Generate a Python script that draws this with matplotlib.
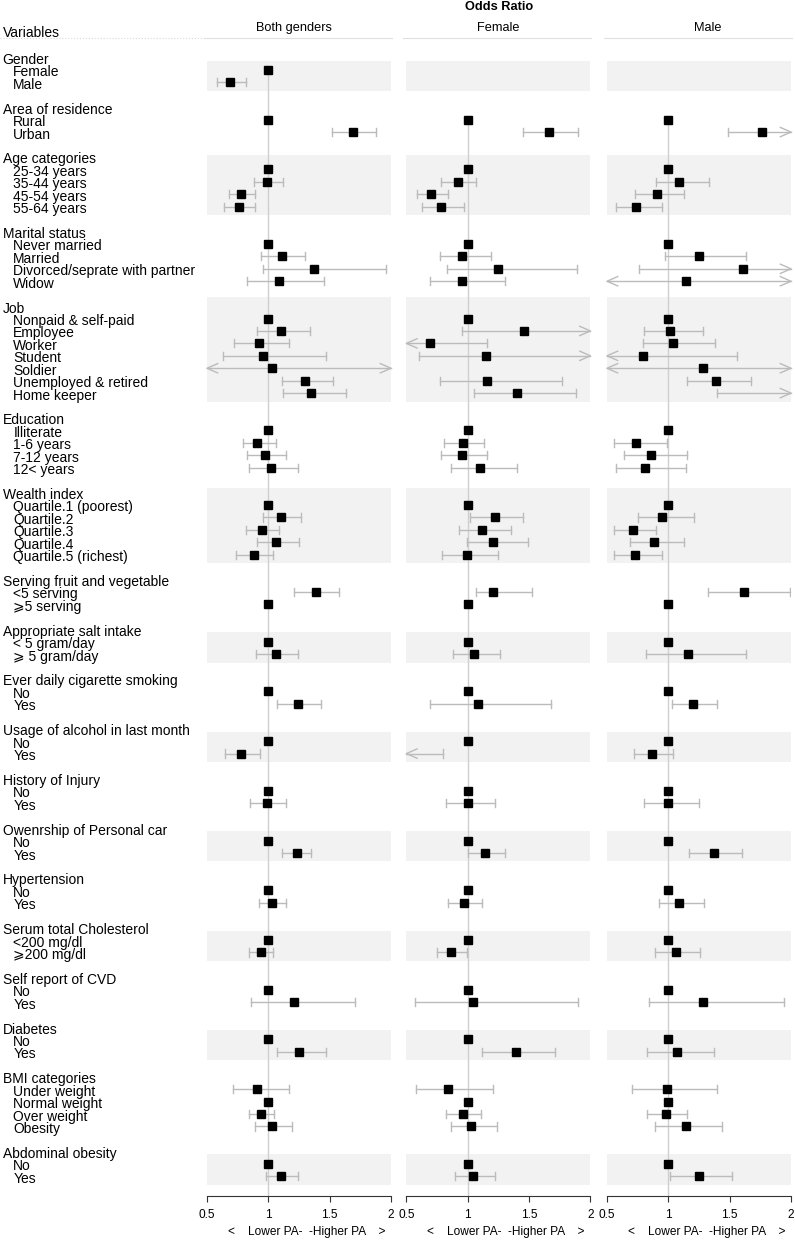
import numpy as np
import matplotlib
matplotlib.use("Agg")
import matplotlib.pyplot as plt
from matplotlib.lines import Line2D

plt.rcParams["font.family"] = ["Liberation Sans", "DejaVu Sans"]

W, H = 795, 1241
N = np.nan

GROUPS = ["Gender", "Area of residence", "Age categories", "Marital status", "Job",
          "Education", "Wealth index", "Serving fruit and vegetable",
          "Appropriate salt intake", "Ever daily cigarette smoking",
          "Usage of alcohol in last month", "History of Injury",
          "Owenrship of Personal car", "Hypertension", "Serum total Cholesterol",
          "Self report of CVD", "Diabetes", "BMI categories", "Abdominal obesity"]
LEVELS = [
    ["Female", "Male"],
    ["Rural", "Urban"],
    ["25-34 years", "35-44 years", "45-54 years", "55-64 years"],
    ["Never married", "Married", "Divorced/seprate with partner", "Widow"],
    ["Nonpaid & self-paid", "Employee", "Worker", "Student", "Soldier",
     "Unemployed & retired", "Home keeper"],
    ["Illiterate", "1-6 years", "7-12 years", "12< years"],
    ["Quartile.1 (poorest)", "Quartile.2", "Quartile.3", "Quartile.4",
     "Quartile.5 (richest)"],
    ["<5 serving", "\u2a7e5 serving"],
    ["< 5 gram/day", "\u2a7e 5 gram/day"],
    ["No", "Yes"], ["No", "Yes"], ["No", "Yes"], ["No", "Yes"], ["No", "Yes"],
    ["<200 mg/dl", "\u2a7e200 mg/dl"],
    ["No", "Yes"], ["No", "Yes"],
    ["Under weight", "Normal weight", "Over weight", "Obesity"],
    ["No", "Yes"],
]

# odds ratios and 95% CI, flattened in LEVELS order (reference rows: OR 1, no CI)
BOTH_OR = [1, 0.69,  1, 1.69,  1, 0.99, 0.78, 0.76,  1, 1.11, 1.37, 1.09,
           1, 1.10, 0.92, 0.96, 1.03, 1.30, 1.35,  1, 0.91, 0.97, 1.02,
           1, 1.10, 0.95, 1.06, 0.88,  1.39, 1,  1, 1.06,  1, 1.24,  1, 0.78,
           1, 0.99,  1, 1.23,  1, 1.03,  1, 0.94,  1, 1.21,  1, 1.25,
           0.91, 1, 0.94, 1.03,  1, 1.10]
BOTH_LO = [N, 0.58,  N, 1.52,  N, 0.88, 0.68, 0.64,  N, 0.94, 0.96, 0.83,
           N, 0.91, 0.72, 0.63, 0.30, 1.11, 1.12,  N, 0.79, 0.83, 0.84,
           N, 0.96, 0.82, 0.91, 0.74,  1.21, N,  N, 0.90,  N, 1.07,  N, 0.65,
           N, 0.85,  N, 1.11,  N, 0.92,  N, 0.84,  N, 0.86,  N, 1.07,
           0.71, N, 0.84, 0.89,  N, 0.98]
BOTH_HI = [N, 0.82,  N, 1.88,  N, 1.12, 0.89, 0.89,  N, 1.30, 1.96, 1.45,
           N, 1.34, 1.17, 1.47, 3.50, 1.53, 1.63,  N, 1.06, 1.14, 1.24,
           N, 1.27, 1.09, 1.25, 1.04,  1.58, N,  N, 1.24,  N, 1.43,  N, 0.93,
           N, 1.14,  N, 1.35,  N, 1.14,  N, 1.04,  N, 1.71,  N, 1.47,
           1.17, N, 1.05, 1.19,  N, 1.24]

FEMALE_OR = [N, N,  1, 1.66,  1, 0.92, 0.70, 0.78,  1, 0.95, 1.25, 0.95,
             1, 1.46, 0.69, 1.15, N, 1.16, 1.40,  1, 0.96, 0.95, 1.10,
             1, 1.22, 1.12, 1.21, 0.99,  1.21, 1,  1, 1.05,  1, 1.08,  1, 0.45,
             1, 1.00,  1, 1.14,  1, 0.97,  1, 0.86,  1, 1.04,  1, 1.39,
             0.84, 1, 0.96, 1.03,  1, 1.04]
FEMALE_LO = [N, N,  N, 1.45,  N, 0.78, 0.59, 0.63,  N, 0.77, 0.83, 0.69,
             N, 0.95, 0.40, 0.60, N, 0.77, 1.05,  N, 0.81, 0.78, 0.86,
             N, 1.02, 0.93, 0.99, 0.79,  1.07, N,  N, 0.88,  N, 0.69,  N, 0.25,
             N, 0.82,  N, 1.00,  N, 0.84,  N, 0.75,  N, 0.57,  N, 1.12,
             0.58, N, 0.82, 0.86,  N, 0.90]
FEMALE_HI = [N, N,  N, 1.90,  N, 1.07, 0.84, 0.97,  N, 1.19, 1.89, 1.30,
             N, 2.30, 1.16, 2.20, N, 1.77, 1.88,  N, 1.13, 1.16, 1.40,
             N, 1.45, 1.35, 1.49, 1.25,  1.52, N,  N, 1.26,  N, 1.68,  N, 0.80,
             N, 1.22,  N, 1.30,  N, 1.12,  N, 0.99,  N, 1.90,  N, 1.71,
             1.21, N, 1.11, 1.24,  N, 1.22]

MALE_OR = [N, N,  1, 1.76,  1, 1.09, 0.91, 0.74,  1, 1.25, 1.61, 1.14,
           1, 1.01, 1.04, 0.79, 1.28, 1.39, 2.10,  1, 0.74, 0.86, 0.81,
           1, 0.95, 0.71, 0.88, 0.73,  1.62, 1,  1, 1.16,  1, 1.20,  1, 0.87,
           1, 1.00,  1, 1.37,  1, 1.09,  1, 1.06,  1, 1.28,  1, 1.07,
           0.99, 1, 0.98, 1.14,  1, 1.25]
MALE_LO = [N, N,  N, 1.49,  N, 0.90, 0.73, 0.57,  N, 0.97, 0.76, 0.45,
           N, 0.80, 0.79, 0.40, 0.30, 1.15, 1.40,  N, 0.56, 0.64, 0.57,
           N, 0.75, 0.56, 0.69, 0.56,  1.32, N,  N, 0.82,  N, 1.03,  N, 0.72,
           N, 0.80,  N, 1.17,  N, 0.92,  N, 0.89,  N, 0.84,  N, 0.83,
           0.70, N, 0.83, 0.89,  N, 1.01]
MALE_HI = [N, N,  N, 2.10,  N, 1.33, 1.13, 0.95,  N, 1.63, 3.40, 2.90,
           N, 1.28, 1.38, 1.56, 5.40, 1.67, 3.20,  N, 0.99, 1.15, 1.14,
           N, 1.21, 0.90, 1.13, 0.95,  1.99, N,  N, 1.63,  N, 1.40,  N, 1.04,
           N, 1.25,  N, 1.60,  N, 1.29,  N, 1.26,  N, 1.94,  N, 1.37,
           1.40, N, 1.15, 1.44,  N, 1.52]

PANELS = ["Both genders", "Female", "Male"]
PANEL_DATA = [(BOTH_OR, BOTH_LO, BOTH_HI), (FEMALE_OR, FEMALE_LO, FEMALE_HI),
              (MALE_OR, MALE_LO, MALE_HI)]
TICKS = [0.5, 1, 1.5, 2]
TICK_LABELS = ["0.5", "1", "1.5", "2"]
DIRECTION = "<    Lower PA-  -Higher PA    >"

# layout (pixels)
PANEL_X = [(207, 391), (406.4, 590.4), (607, 791)]
TITLE_X = [293.5, 498, 707.7]
AX_TOP, AX_BOT = 40, 1196
ROW0, ROWH = 57.5, 12.43
XMIN, XMAX = 0.5, 2.0
CI_COL, REF_COL, BAND_COL = "#BBBBBB", "#CFCFCF", "#F2F2F2"
FS_LAB, FS_HEAD, FS_TICK = 10, 9.2, 8.6
TXT_DY = 0.2   # nudge text down so the glyphs sit on the row


def fy(px):
    return 1 - px / H


# row index of every header / level
head_rows, level_rows, spans = [], [], []
r = 0
for g, levs in zip(GROUPS, LEVELS):
    head_rows.append(r)
    rows = list(range(r + 1, r + 1 + len(levs)))
    level_rows += rows
    spans.append(rows)
    r += len(levs) + 2
level_rows = np.array(level_rows, float)
ylim = ((AX_BOT - ROW0) / ROWH, (AX_TOP - ROW0) / ROWH)

fig = plt.figure(figsize=(W / 100, H / 100), dpi=100)

# left label column
lab = fig.add_axes([0, fy(AX_BOT), 205 / W, (AX_BOT - AX_TOP) / H])
lab.set_xlim(0, 205); lab.set_ylim(*ylim); lab.axis("off")
for g, hr, levs, rows in zip(GROUPS, head_rows, LEVELS, spans):
    lab.text(2.7, hr + TXT_DY, g, fontsize=FS_LAB, va="center", ha="left")
    for lv, rr in zip(levs, rows):
        lab.text(13.3, rr + TXT_DY, lv, fontsize=FS_LAB, va="center", ha="left")

fig.text(2.7 / W, fy(33), "Variables", fontsize=FS_LAB, va="center", ha="left")
fig.text(499 / W, fy(7), "Odds Ratio", fontsize=FS_HEAD, weight="bold",
         va="center", ha="center")
fig.add_artist(Line2D([0, 203 / W], [fy(38.3)] * 2, color="#D8D8D8", lw=0.8, ls=":"))

AH_DX, AH_DY, CAP = 0.087, 0.375, 0.33

for (x0, x1), tx, name, (ors, los, his) in zip(PANEL_X, TITLE_X, PANELS, PANEL_DATA):
    ax = fig.add_axes([x0 / W, fy(AX_BOT), (x1 - x0) / W, (AX_BOT - AX_TOP) / H])
    ax.set_xlim(XMIN, XMAX); ax.set_ylim(*ylim)
    for s in ("top", "left", "right"):
        ax.spines[s].set_visible(False)
    ax.spines["bottom"].set_color("#333333"); ax.spines["bottom"].set_linewidth(0.8)
    ax.set_yticks([])
    ax.set_xticks(TICKS, TICK_LABELS)
    ax.tick_params(axis="x", direction="out", length=4.3, width=0.8, color="#333333",
                   labelsize=FS_TICK, pad=5)
    ax.patch.set_alpha(0)

    fig.text(tx / W, fy(28), name, fontsize=FS_HEAD, va="center", ha="center")
    fig.add_artist(Line2D([(x0 - 3) / W, (x1 + 1) / W], [fy(38.3)] * 2,
                          color="#E0E0E0", lw=0.8))

    # shaded bands on every other group
    for gi, rows in enumerate(spans):
        if gi % 2 == 0:
            n = len(rows)
            ax.axhspan(rows[0] - 0.75 - 0.2 * (n - 2), rows[-1] + 0.68,
                       color=BAND_COL, zorder=0, lw=0)

    ors, los, his = (np.array(a, float) for a in (ors, los, his))
    first = level_rows[np.isfinite(ors)].min()
    ax.plot([1, 1], [first - 0.3, ylim[0]], color=REF_COL, lw=1, zorder=1)

    for y, o, lo, hi in zip(level_rows, ors, los, his):
        if np.isfinite(lo):
            a, b = max(lo, XMIN), min(hi, XMAX)
            ax.plot([a, b], [y, y], color=CI_COL, lw=1, zorder=2, clip_on=False)
            if lo >= XMIN:
                ax.plot([a, a], [y - CAP, y + CAP], color=CI_COL, lw=1, zorder=2)
            else:
                ax.plot([a + AH_DX, a, a + AH_DX], [y - AH_DY, y, y + AH_DY],
                        color=CI_COL, lw=1, zorder=2, clip_on=False)
            if hi <= XMAX:
                ax.plot([b, b], [y - CAP, y + CAP], color=CI_COL, lw=1, zorder=2)
            else:
                ax.plot([b - AH_DX, b, b - AH_DX], [y - AH_DY, y, y + AH_DY],
                        color=CI_COL, lw=1, zorder=2, clip_on=False)
        if np.isfinite(o) and XMIN <= o <= XMAX:
            ax.plot(o, y, "s", color="black", ms=5.2, zorder=3)

    # direction label under the axis
    fig.text((x0 + 99.5) / W, fy(1232), DIRECTION, fontsize=FS_TICK,
             va="center", ha="center")

fig.savefig("out.png", dpi=100)
